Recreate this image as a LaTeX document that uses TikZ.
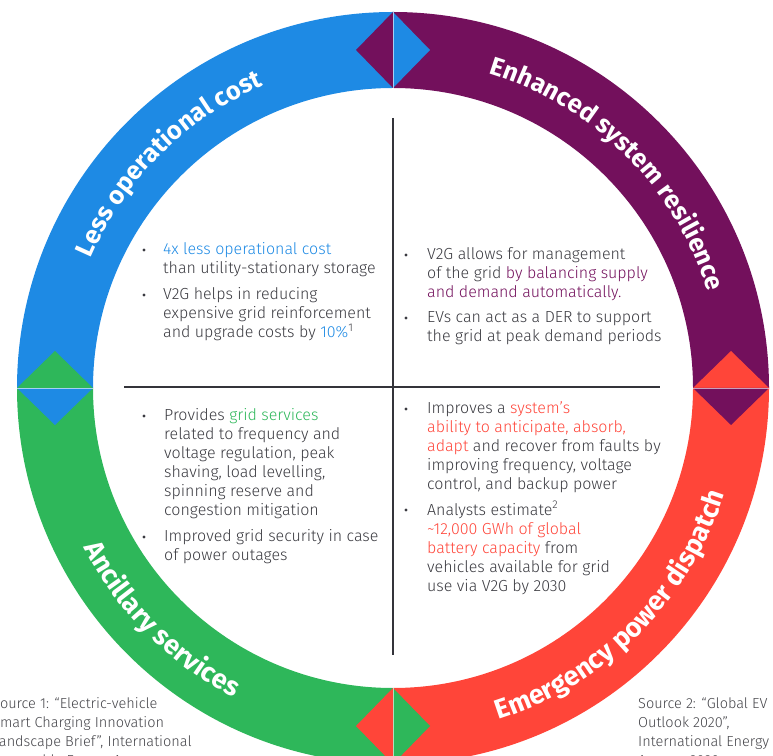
\documentclass[tikz,border=0pt]{standalone}
\usepackage{fontspec}
\setmainfont{Fira Sans}
\newfontfamily\lightfam{Fira Sans Light}
\usetikzlibrary{decorations.text}
\definecolor{cblue}{HTML}{1E8AE4}
\definecolor{cpurple}{HTML}{73105C}
\definecolor{cgreen}{HTML}{2EB75A}
\definecolor{cred}{HTML}{FF4539}
\definecolor{ctext}{HTML}{3A3A40}
\definecolor{csrc}{HTML}{45454A}
\newcommand\titlefnt{\fontsize{25.5}{25.5}\selectfont\bfseries}
\newcommand\titlefntb{\fontsize{27}{27}\selectfont\bfseries}
\newcommand\splitdiamond[3]{%
  \begin{scope}[rotate=#1]
    \fill[#2] (376,0) -- (338,37) -- (300,0) -- cycle;
    \fill[#3] (376,0) -- (338,-37) -- (300,0) -- cycle;
    \draw[white,opacity=.6,line width=.8pt] (376,0) -- (300,0);
  \end{scope}}
\tikzset{
  body/.style={anchor=base west, inner sep=0pt, align=left, text=ctext,
    font=\lightfam\fontsize{16}{19}\selectfont},
  src/.style={anchor=base west, inner sep=0pt, align=left, text=csrc,
    font=\lightfam\fontsize{14.5}{19}\selectfont},
  dot/.style={circle, fill=ctext, inner sep=0pt, minimum size=3.2pt},
  axis/.style={draw=ctext!90!black, line width=1.3pt}
}
\begin{document}
\begin{tikzpicture}[x=1pt,y=1pt]
\useasboundingbox (0,0) rectangle (773,755);
\clip (0,0) rectangle (773,755);
\coordinate (C) at (393,367);
\begin{scope}[shift={(C)}]
  % ring quadrants
  \fill[cpurple] (0:376) arc[start angle=0,end angle=90,radius=376] -- (90:300) arc[start angle=90,end angle=0,radius=300] -- cycle;
  \fill[cblue] (90:376) arc[start angle=90,end angle=180,radius=376] -- (180:300) arc[start angle=180,end angle=90,radius=300] -- cycle;
  \fill[cgreen] (180:376) arc[start angle=180,end angle=270,radius=376] -- (270:300) arc[start angle=270,end angle=180,radius=300] -- cycle;
  \fill[cred] (270:376) arc[start angle=270,end angle=360,radius=376] -- (0:300) arc[start angle=360,end angle=270,radius=300] -- cycle;
  % diamonds
  \splitdiamond{90}{cpurple}{cblue}
  \splitdiamond{180}{cblue}{cgreen}
  \splitdiamond{0}{cred}{cpurple}
  \splitdiamond{270}{cgreen}{cred}
  % titles
  \path[decorate, decoration={text along path, text align=center, text color=white,
     text={|\titlefnt|Less operational cost}}]
     (180:329) arc[start angle=180,end angle=90,radius=329];
  \path[decorate, decoration={text along path, text align=center, text color=white,
     text={|\titlefnt|Enhanced system resilience}}]
     (90:329) arc[start angle=90,end angle=0,radius=329];
  \path[decorate, decoration={text along path, text align=center, text color=white,
     text={|\titlefntb|Ancillary services}}]
     (180:348) arc[start angle=180,end angle=270,radius=348];
  \path[decorate, decoration={text along path, text align=center, text color=white,
     text={|\titlefntb|Emergency power dispatch}}]
     (270:348) arc[start angle=270,end angle=360,radius=348];
\end{scope}
% axes
\coordinate (vtop) at (393,637);
\coordinate (vbot) at (393,100);
\coordinate (hl) at (124,368);
\coordinate (hr) at (660,368);
\draw[axis] (vtop) -- (vbot);
\draw[axis] (hl) -- (hr);
% top-left
\node[dot] (d1) at (144,505) {};
\node[body] (t1) at (163,481) {\textcolor{cblue}{4x less operational cost}\\than utility-stationary storage};
\node[dot] (d2) at (144,460) {};
\node[body] (t2) at (163,417) {V2G helps in reducing\\expensive grid reinforcement\\and upgrade costs by \textcolor{cblue}{10\%}\textsuperscript{1}};
% top-right
\node[dot] (d3) at (406,500) {};
\node[body] (t3) at (427,457) {V2G allows for management\\of the grid \textcolor{cpurple}{by balancing supply}\\\textcolor{cpurple}{and demand automatically.}};
\node[dot] (d4) at (406,437) {};
\node[body] (t4) at (427,413) {EVs can act as a DER to support\\the grid at peak demand periods};
% bottom-left
\node[dot] (d5) at (144,339) {};
\node[body] (t5) at (164,239) {Provides \textcolor{cgreen}{grid services}\\related to frequency and\\voltage regulation, peak\\shaving, load levelling,\\spinning reserve and\\congestion mitigation};
\node[dot] (d6) at (144,218) {};
\node[body] (t6) at (164,194) {Improved grid security in case\\of power outages};
% bottom-right
\node[dot] (d7) at (406,346) {};
\node[body] (t7) at (427,265) {Improves a \textcolor{cred}{system’s}\\\textcolor{cred}{ability to anticipate, absorb,}\\\textcolor{cred}{adapt} and recover from faults by\\improving frequency, voltage\\control, and backup power};
\node[dot] (d8) at (406,245) {};
\node[body] (t8) at (427,164) {Analysts estimate\textsuperscript{2}\\\textcolor{cred}{\textasciitilde 12,000 GWh of global}\\\textcolor{cred}{battery capacity} from\\vehicles available for grid\\use via V2G by 2030};
% sources
\node[src] (s1) at (-8,-10) {Source 1: “Electric-vehicle\\Smart Charging Innovation\\Landscape Brief”, International\\Renewable Energy Agency};
\node[src] (s2) at (638,-10) {Source 2: “Global EV\\Outlook 2020”,\\International Energy\\Agency, 2020};
\end{tikzpicture}
\end{document}
